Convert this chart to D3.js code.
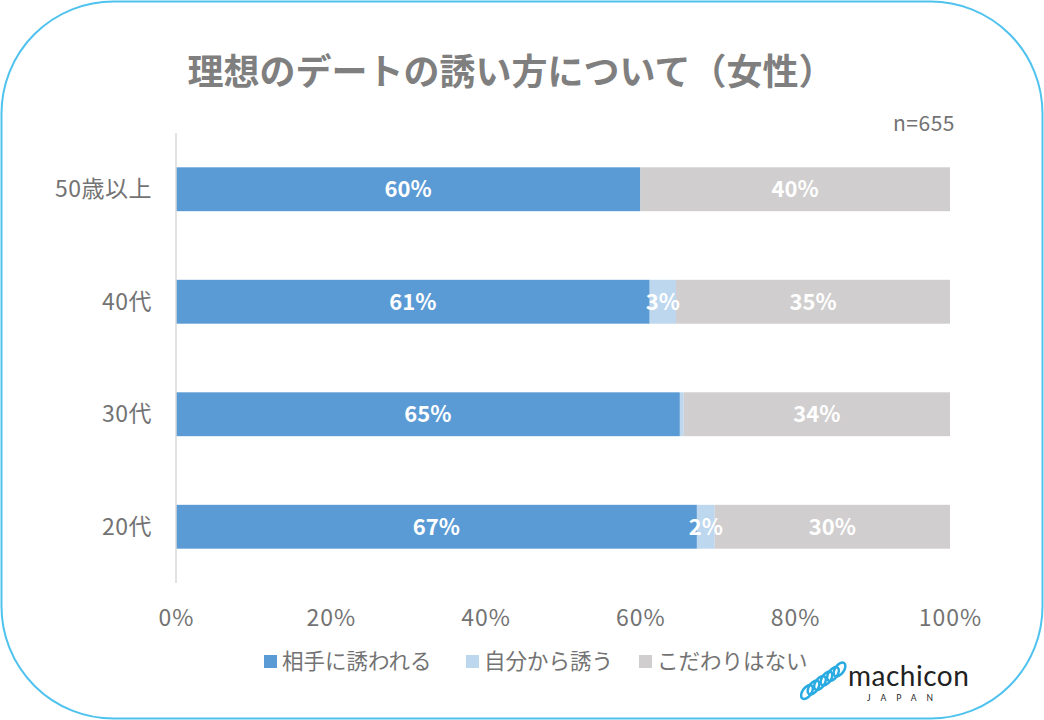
<!DOCTYPE html>
<html><head><meta charset="utf-8">
<script src="https://cdn.jsdelivr.net/npm/d3@7"></script>
<style>body{margin:0;background:#fff}svg{display:block}text{font-family:"Noto Sans CJK JP","Noto Sans",sans-serif}</style>
</head><body><svg id="c" width="1044" height="720"></svg>
<script>
const categories = ["50歳以上","40代","30代","20代"];
const seriesNames = ["相手に誘われる","自分から誘う","こだわりはない"];
const invited = [60, 61.2, 65.1, 67.3];
const self = [0, 3.4, 0.5, 2.3];
const noPref = [40, 35.4, 34.4, 30.4];
const xTicks = [0, 20, 40, 60, 80, 100];
const colors = ["#5B9BD5","#BDD7EE","#D0CECE"];
const textGray = "#737373";

const svg = d3.select("#c");
svg.append("rect").attr("x",1.5).attr("y",1.5).attr("width",1041).attr("height",717)
  .attr("rx",112).attr("ry",112).attr("fill","#fff").attr("stroke","#4FC3EE").attr("stroke-width",2);

svg.append("text").attr("x",511).attr("y",85).attr("text-anchor","middle")
  .attr("font-size",36).attr("font-weight","bold").attr("fill","#7F7F7F").text("理想のデートの誘い方について（女性）");
svg.append("text").attr("x",955).attr("y",131).attr("text-anchor","end")
  .attr("font-size",21).attr("fill",textGray).attr("letter-spacing",0.5).text("n=655");

const x = d3.scaleLinear().domain([0,100]).range([176,950]);
const y = d3.scaleBand().domain(categories).range([133,583]).paddingInner(0.61).paddingOuter(0.305);

const data = categories.map((c,i)=>({cat:c, v:[invited[i], self[i], noPref[i]]}));
const stack = d3.stack().keys([0,1,2]).value((d,k)=>d.v[k]);
const layers = stack(data);

layers.forEach((layer,k)=>{
  const g = svg.append("g");
  g.selectAll("rect").data(layer).join("rect")
    .attr("x",d=>x(d[0])).attr("width",d=>x(d[1])-x(d[0]))
    .attr("y",d=>y(d.data.cat)).attr("height",y.bandwidth()).attr("fill",colors[k]);
});
layers.forEach((layer,k)=>{
  svg.append("g").selectAll("text").data(layer.filter(d=>d[1]-d[0]>=1)).join("text")
    .attr("x",d=>x((d[0]+d[1])/2)).attr("y",d=>y(d.data.cat)+y.bandwidth()/2+8)
    .attr("text-anchor","middle").attr("font-size",22).attr("font-weight","bold").attr("fill","#fff")
    .text(d=>Math.round(d[1]-d[0])+"%");
});

// axis line
svg.append("line").attr("x1",176).attr("x2",176).attr("y1",133).attr("y2",583).attr("stroke","#D9D9D9").attr("stroke-width",1.5);

const xa = svg.append("g").attr("transform","translate(0,583)")
  .call(d3.axisBottom(x).tickValues(xTicks).tickSize(0).tickPadding(0).tickFormat(d=>d+"%"));
xa.select(".domain").remove();
xa.selectAll("text").attr("font-size",23).attr("fill",textGray).attr("dy",0).attr("y",43)
  .attr("letter-spacing",1)
  .style("font-family",'"Noto Sans CJK JP",sans-serif');

const ya = svg.append("g").attr("transform","translate(152,0)")
  .call(d3.axisLeft(y).tickSize(0).tickPadding(0));
ya.select(".domain").remove();
ya.selectAll("text").attr("font-size",23).attr("fill",textGray).attr("dy","0.35em").attr("letter-spacing",0.5)
  .style("font-family",'"Noto Sans CJK JP",sans-serif');

// legend
const legX = [264, 466, 639];
const lg = svg.append("g");
seriesNames.forEach((s,i)=>{
  lg.append("rect").attr("x",legX[i]).attr("y",655).attr("width",13).attr("height",13).attr("fill",colors[i]);
  lg.append("text").attr("x",legX[i]+18).attr("y",669).attr("font-size",21.5).attr("fill",textGray).text(s);
});

// logo
const logo = svg.append("g").attr("transform","translate(800,664)");
for(let i=0;i<6;i++){
  const cx = 7+i*6.5, cy = 28-i*4.5;
  logo.append("ellipse").attr("cx",cx).attr("cy",cy).attr("rx",4.5).attr("ry",8)
    .attr("transform",`rotate(35 ${cx} ${cy})`).attr("fill","none").attr("stroke","#29ABE2").attr("stroke-width",2.5);
}
logo.append("text").attr("x",48).attr("y",22).attr("font-size",28).attr("fill","#222").style("font-family","Lato, sans-serif").attr("letter-spacing",0.5).text("machicon");
logo.append("text").attr("x",105).attr("y",37).attr("font-size",8.5).attr("fill","#222").attr("text-anchor","middle").attr("letter-spacing",10).style("font-family","Lato, sans-serif").text("JAPAN");
</script></body></html>
